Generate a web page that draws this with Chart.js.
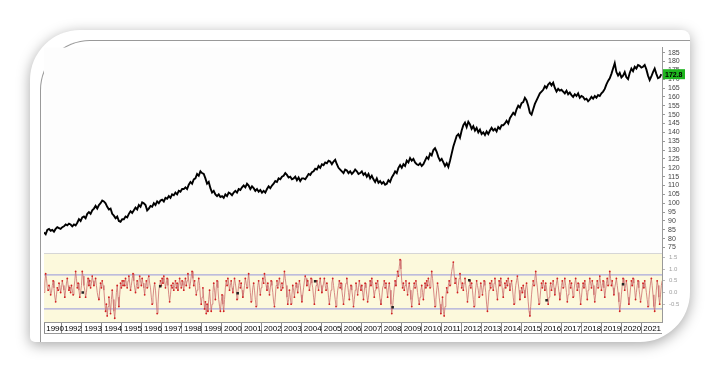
<!DOCTYPE html>
<html>
<head>
<meta charset="utf-8">
<script src="https://cdn.jsdelivr.net/npm/chart.js@4.4.1/dist/chart.umd.min.js"></script>
<style>
  html, body { margin: 0; padding: 0; background: #fff; }
  body { width: 720px; height: 373px; position: relative; overflow: hidden; }
  #card {
    position: absolute; left: 30px; top: 30px; width: 660px; height: 312px;
    background: #fff; overflow: hidden;
    border-radius: 50px 8px 50px 5px;
    box-shadow: 0 3px 14px rgba(0, 0, 0, 0.35);
  }
  #frame {
    position: absolute; left: 10px; top: 10px; width: 660px; height: 310px;
    border-left: 1px solid #9a9a9a; border-top: 1px solid #9a9a9a;
    border-top-left-radius: 50px;
  }
  #wrap { position: absolute; left: 10px; top: 10px; width: 650px; height: 300px; }
</style>
</head>
<body>
<div id="card">
  <div id="frame"></div>
  <div id="wrap"><canvas id="chart" width="650" height="300"></canvas></div>
</div>
<script>
const priceStart = 1991.1; // first bar
const priceValues = [
  83.5, 82.5, 85, 85.5, 84.5, 85, 84, 85.5, 86.5, 86, 85.5, 86.5,
  87, 88, 87.5, 88.5, 88, 87, 88, 87.5, 89, 91, 90, 92,
  92.5, 91.5, 94, 95, 94, 96, 97, 98.5, 97, 99, 100, 101.5,
  101, 100, 98, 96.5, 97, 94, 93, 91.5, 92.5, 90, 89.5, 91,
  91, 92.5, 92, 94, 95.5, 94.5, 96, 97.5, 96.5, 99, 98, 100.5,
  100, 99, 96, 97, 98.5, 98, 100, 99, 101, 100, 101.5, 102,
  101, 103, 102.5, 104, 103, 105, 104.5, 106, 105, 107, 106.5, 108,
  108, 109, 108, 110.5, 112, 111, 113.5, 114, 116.5, 115.5, 118, 117,
  116.5, 114, 111, 112, 108.5, 106, 107, 105, 104, 105, 103.5, 104,
  103, 105, 104, 106, 105.5, 104.5, 106, 107, 106, 108, 107.5, 109,
  110, 109, 111, 110, 108, 109.5, 108.5, 107, 108, 106.5, 107.5, 106,
  107, 106, 108, 109.5, 108.5, 110, 111, 112.5, 112, 114, 113.5, 115,
  115.5, 117, 116, 114.5, 115, 113.5, 114, 115, 113, 114.5, 112.5, 114,
  114, 113.5, 115, 116.5, 116, 117.5, 118, 119.5, 119, 121, 120, 122,
  121.5, 123, 122.5, 124, 123.5, 122, 123.5, 124.5, 122, 120, 119, 118,
  117, 119, 118.5, 117, 118, 116.5, 117.5, 119, 118, 116.5, 117, 118,
  116, 117, 115, 116.5, 114, 115.5, 113.5, 112, 114, 111.5, 112.5, 111,
  112, 110.5, 111, 113, 112, 114.5, 116, 118, 117, 120, 121.5, 120,
  122, 121, 124, 123, 125.5, 124, 125, 123, 122, 121.5, 122.5, 121,
  122, 124, 126, 125, 128, 127, 130, 131, 129, 126, 124, 125,
  123, 121, 122.5, 120.5, 124, 128, 132, 135, 138, 139, 137, 141,
  144, 145.5, 143, 146, 144.5, 142, 143.5, 141, 142.5, 140, 141.5, 139,
  140, 138.5, 140.5, 139, 141, 142.5, 141, 142, 140.5, 143, 142, 144,
  144, 145, 146.5, 145, 148, 149.5, 151, 150, 153, 155, 154, 156.5,
  157, 159.5, 158, 155, 151, 150, 153, 156, 158, 160, 162, 163,
  164, 166, 165, 167, 168, 166.5, 168, 165, 163, 164.5, 163.5, 164,
  163, 162, 163.5, 161.5, 162.5, 161, 160, 161.5, 160.5, 162, 159.5, 160.5,
  160, 158.5, 159, 157.5, 158.5, 160, 159, 160.5, 159.5, 161, 160.5, 162,
  163, 164.5, 167, 169, 170.5, 173, 176, 179, 174, 172, 173.5, 171,
  172, 174, 171, 170, 173.5, 176, 174.5, 177, 176, 178, 177.5, 176.5,
  177, 178, 175.5, 172, 169.5, 171.5, 174, 176, 173, 170.5, 171, 172.8
];

// oscillator, two readings per month
const oscValues = [
  0.0, 0.4, 0.8, 0.6, 0.2, 0.1, 0.3, 0.2, -0.1, 0.0, 0.3, 0.5, 0.2, -0.2, -0.4, -0.1, 0.2, 0.1, 0.4, 0.3, 0.0, 0.2, 0.5, 0.3,
  0.1, -0.2, 0.1, 0.4, 0.6, 0.3, 0.1, 0.2, 0.0, 0.3, 0.1, -0.1, 0.2, 0.5, 0.9, 0.6, 0.2, 0.4, 0.1, -0.2, 0.0, 0.3, 0.9, 0.7,
  0.3, 0.1, -0.2, 0.0, 0.4, 0.6, 0.3, 0.5, 0.2, 0.4, 0.7, 0.5, 0.3, 0.4, 0.6, 0.3, 0.0, -0.2, -0.3, 0.1, 0.4, 0.2, 0.5, 0.3,
  0.1, -0.4, -0.8, -0.5, -1.0, -0.6, -0.2, -0.5, -0.9, -0.3, 0.1, -0.3, -0.8, -1.1, -0.6, 0.0, 0.3, -0.2, -0.6, -0.1, 0.4, 0.2, 0.5, 0.3,
  0.5, 0.3, 0.6, 0.4, 0.2, 0.5, 0.7, 0.4, 0.1, 0.3, 0.6, 0.8, 0.5, 0.2, 0.0, 0.3, 0.5, 0.2, 0.4, 0.7, 0.5, 0.3, 0.6, 0.4,
  0.2, -0.1, 0.3, 0.5, 0.2, 0.6, 0.7, 0.4, 0.2, -0.2, -0.5, -0.2, 0.2, 0.4, 0.1, -0.4, -0.9, -0.5, 0.1, 0.3, 0.5, 0.3, 0.6, 0.4,
  0.7, 0.5, 0.2, 0.4, 0.6, 0.3, -0.1, -0.4, -0.1, 0.3, 0.2, 0.4, 0.1, 0.3, 0.5, 0.2, 0.4, 0.1, 0.3, 0.6, 0.4, 0.2, 0.5, 0.3,
  0.1, 0.4, 0.6, 0.3, 0.5, 0.8, 0.5, 0.2, 0.4, 0.7, 0.9, 0.6, 0.3, 0.5, 0.2, -0.1, 0.1, 0.4, 0.6, 0.3, -0.2, -0.5, -0.2, 0.2,
  -0.3, -0.7, -0.4, -0.9, -0.5, -0.8, -0.3, 0.1, -0.4, -0.8, -0.5, 0.0, 0.4, 0.1, -0.3, 0.2, 0.5, 0.2, -0.3, -0.6, -0.8, -0.4, -0.1, -0.5,
  -0.8, -0.3, 0.2, 0.5, 0.3, 0.6, 0.4, 0.1, 0.3, 0.5, 0.2, 0.0, 0.3, 0.6, 0.4, 0.1, -0.3, 0.0, 0.3, 0.5, 0.2, 0.4, 0.1, -0.2,
  0.0, 0.3, 0.6, 0.4, 0.2, 0.5, 0.8, 0.4, 0.0, -0.4, -0.2, 0.2, 0.4, 0.1, -0.3, -0.6, -0.2, 0.3, 0.5, 0.2, -0.1, 0.2, 0.4, 0.6,
  0.4, 0.8, 0.6, 0.3, 0.1, 0.4, 0.2, -0.1, 0.2, 0.5, 0.3, 0.0, -0.4, -0.6, -0.2, 0.3, 0.5, 0.2, 0.4, 0.6, 0.3, 0.1, 0.4, 0.2,
  0.5, 0.9, 0.6, 0.3, -0.2, -0.5, -0.3, 0.1, -0.2, -0.5, -0.1, 0.3, 0.1, -0.2, 0.2, 0.4, 0.2, 0.0, 0.3, 0.5, 0.3, -0.1, -0.4, -0.1,
  0.2, 0.5, 0.7, 0.6, 0.3, 0.5, 0.4, 0.1, 0.3, 0.6, 0.4, 0.2, -0.2, -0.5, -0.1, 0.3, 0.5, 0.3, 0.1, 0.4, 0.6, 0.3, 0.0, 0.2,
  0.4, 0.6, 0.3, 0.1, 0.4, 0.2, -0.2, -0.5, -0.2, 0.1, 0.4, 0.6, 0.3, 0.0, -0.3, -0.6, -0.3, 0.1, 0.3, 0.5, 0.2, 0.4, 0.1, -0.2,
  -0.5, -0.2, 0.2, 0.4, 0.6, 0.3, 0.0, -0.3, 0.1, 0.3, 0.1, -0.2, -0.6, -0.3, 0.1, 0.4, 0.2, -0.1, 0.2, 0.5, 0.3, 0.1, 0.3, 0.0,
  -0.3, 0.1, 0.4, 0.2, -0.1, -0.4, -0.2, 0.2, 0.5, 0.3, 0.6, 0.4, 0.1, -0.2, 0.1, 0.4, 0.2, 0.5, 0.3, 0.0, -0.3, -0.5, -0.2, 0.2,
  0.3, 0.5, 0.2, 0.4, 0.1, -0.2, 0.2, 0.4, 0.1, -0.5, -0.9, -0.6, -0.2, 0.2, 0.5, 0.3, 0.6, 0.9, 0.7, 1.1, 1.4, 1.0, 0.5, 0.2,
  0.4, 0.1, 0.3, 0.5, 0.2, -0.1, 0.2, 0.4, 0.1, -0.3, -0.6, -0.2, 0.2, 0.4, 0.2, 0.5, 0.3, 0.0, -0.3, -0.5, -0.2, 0.1, 0.3, 0.0,
  -0.3, 0.1, 0.4, 0.2, 0.5, 0.3, 0.6, 0.4, 0.2, 0.5, 0.9, 0.6, 0.2, -0.2, -0.6, -0.3, 0.1, 0.4, 0.2, -0.2, -0.5, -0.9, -0.6, -0.2,
  -0.8, -1.0, -0.6, -0.2, 0.2, 0.0, 0.3, 0.5, 0.3, 0.6, 0.9, 1.1, 1.3, 0.8, 0.4, 0.6, 0.3, 0.0, 0.3, 0.6, 0.8, 0.5, 0.2, 0.4,
  0.1, 0.4, 0.6, 0.3, 0.0, -0.4, -0.1, 0.3, 0.5, 0.2, 0.4, 0.1, -0.3, -0.6, -0.2, 0.2, 0.5, 0.3, 0.1, -0.2, 0.1, 0.4, 0.2, -0.1,
  0.2, 0.5, 0.3, 0.0, -0.5, -0.8, -0.4, 0.1, 0.4, 0.2, 0.5, 0.3, 0.1, 0.4, 0.6, 0.3, 0.0, -0.3, 0.1, 0.5, 0.3, 0.6, 0.4, 0.1,
  -0.2, 0.2, 0.4, 0.2, 0.5, 0.3, 0.6, 0.4, 0.1, 0.3, 0.5, 0.2, -0.2, -0.5, -0.1, 0.3, 0.5, 0.7, 0.4, 0.1, -0.3, -0.1, 0.2, 0.0,
  0.3, 0.1, -0.2, 0.2, 0.4, 0.1, -0.4, -0.8, -1.0, -0.6, -0.1, 0.3, 0.5, 0.3, 0.6, 0.9, 0.5, 0.2, -0.2, -0.5, -0.3, 0.1, 0.4, 0.2,
  0.5, 0.3, 0.1, 0.4, 0.2, -0.2, -0.5, -0.2, 0.2, 0.4, 0.1, 0.3, 0.5, 0.2, -0.1, 0.2, 0.4, 0.6, 0.3, 0.0, -0.3, -0.1, 0.3, 0.5,
  0.2, 0.4, 0.6, 0.3, 0.0, -0.4, -0.1, 0.3, 0.5, 0.2, 0.4, 0.1, -0.2, 0.1, 0.4, 0.6, 0.3, 0.1, 0.4, 0.2, -0.1, -0.5, -0.2, 0.2,
  0.4, 0.2, 0.5, 0.3, 0.0, -0.3, 0.1, 0.3, 0.6, 0.4, 0.2, 0.5, 0.3, -0.1, -0.4, -0.1, 0.3, 0.5, 0.2, 0.4, 0.7, 0.4, 0.1, 0.3,
  0.5, 0.2, -0.2, 0.1, 0.4, 0.6, 0.3, 0.5, 0.9, 0.6, 0.3, 0.5, 0.2, -0.1, 0.2, 0.4, 0.6, 0.3, 0.0, -0.4, -0.8, -0.5, -0.1, 0.3,
  0.6, 0.4, 0.1, 0.3, 0.5, 0.2, -0.2, -0.5, -0.2, 0.2, 0.5, 0.3, 0.6, 0.4, 0.1, -0.3, 0.0, 0.3, 0.5, 0.2, -0.1, -0.4, -0.2, 0.1,
  0.4, 0.2, 0.5, 0.3, 0.0, -0.3, -0.6, -0.3, 0.1, 0.4, 0.6, 0.3, -0.1, -0.6, -0.8, -0.4, 0.1, 0.5, 0.3, -0.2, -0.5, -0.1, 0.3, 0.5
];

// black signal dots on the oscillator
const markerYears = [1993.04, 1996.92, 2000.8, 2004.68, 2008.56, 2012.4, 2016.27, 2020.1];
const markerValues = [0.0, 0.27, -0.03, 0.48, -0.63, 0.52, -0.33, 0.35];

const oscUpper = 0.75;
const oscLower = -0.7;

// axis ticks
const yearTicks = [1991.1, 1992, 1993, 1994, 1995, 1996, 1997, 1998, 1999, 2000, 2001, 2002, 2003, 2004, 2005,
  2006, 2007, 2008, 2009, 2010, 2011, 2012, 2013, 2014, 2015, 2016, 2017, 2018, 2019, 2020, 2021];
const yearLabels = ['1990', '1992', '1993', '1994', '1995', '1996', '1997', '1998', '1999', '2000', '2001', '2002', '2003', '2004', '2005',
  '2006', '2007', '2008', '2009', '2010', '2011', '2012', '2013', '2014', '2015', '2016', '2017', '2018', '2019', '2020', '2021'];
const priceTicks = [75, 80, 85, 90, 95, 100, 105, 110, 115, 120, 125, 130, 135, 140, 145, 150, 155, 160, 165, 170, 175, 180, 185];
const oscTicks = [-0.5, 0, 0.5, 1, 1.5];

const xMin = 1991.1;
const xMax = 2022.05;

const priceData = priceValues.map((v, i) => ({ x: priceStart + i / 12, y: v }));
const oscData = oscValues.map((v, i) => ({ x: priceStart + i / 24, y: v }));
const markerData = markerYears.map((x, i) => ({ x: x, y: markerValues[i] }));

// turning points of the oscillator get a red dot
function isTurn(i) {
  const v = oscValues;
  if (i <= 0 || i >= v.length - 1) return false;
  return (v[i] > v[i - 1] && v[i] >= v[i + 1]) || (v[i] < v[i - 1] && v[i] <= v[i + 1]);
}

// panel backgrounds and the last value box
const panels = {
  id: 'panels',
  beforeDraw(chart) {
    const ctx = chart.ctx;
    const a = chart.chartArea;
    const yo = chart.scales.yo;
    ctx.save();
    ctx.fillStyle = '#fdfdfd';
    ctx.fillRect(a.left, a.top, a.right - a.left, yo.top - a.top);
    ctx.fillStyle = '#fcf9dc';
    ctx.fillRect(a.left, yo.top, a.right - a.left, yo.bottom - yo.top);
    ctx.strokeStyle = '#d6d6d6';
    ctx.lineWidth = 1;
    ctx.beginPath();
    ctx.moveTo(a.left, Math.round(yo.top) + 0.5);
    ctx.lineTo(a.right, Math.round(yo.top) + 0.5);
    ctx.stroke();
    ctx.restore();
  },
  afterDraw(chart) {
    const ctx = chart.ctx;
    const y = chart.scales.y;
    const x = chart.scales.x;
    const last = priceValues[priceValues.length - 1];
    const py = y.getPixelForValue(last);
    ctx.save();
    // bottom edge of the date strip
    ctx.strokeStyle = '#999';
    ctx.lineWidth = 1;
    ctx.beginPath();
    ctx.moveTo(x.left, Math.round(x.bottom) - 0.5);
    ctx.lineTo(x.right, Math.round(x.bottom) - 0.5);
    ctx.stroke();
    ctx.fillStyle = '#1fb51f';
    ctx.fillRect(y.left + 1, py - 5, 22, 10);
    ctx.fillStyle = '#000';
    ctx.font = 'bold 7px "Liberation Sans", Arial, sans-serif';
    ctx.textBaseline = 'middle';
    ctx.textAlign = 'left';
    ctx.fillText(last.toFixed(1), y.left + 3, py + 0.5);
    ctx.restore();
  }
};

new Chart(document.getElementById('chart'), {
  type: 'line',
  data: {
    datasets: [
      {
        label: 'Price',
        data: priceData,
        yAxisID: 'y',
        borderColor: '#000',
        borderWidth: 1.9,
        pointRadius: 0,
        tension: 0,
        order: 1
      },
      {
        label: 'Oscillator',
        data: oscData,
        yAxisID: 'yo',
        borderColor: 'rgba(205, 110, 110, 0.8)',
        borderWidth: 1,
        pointRadius: ctx => isTurn(ctx.dataIndex) ? 0.9 : 0,
        pointBackgroundColor: '#d42020',
        pointBorderWidth: 0,
        tension: 0,
        order: 2
      },
      {
        label: 'Upper',
        data: [{ x: xMin, y: oscUpper }, { x: xMax, y: oscUpper }],
        yAxisID: 'yo',
        borderColor: '#a9a9dc',
        borderWidth: 1.2,
        pointRadius: 0,
        order: 4
      },
      {
        label: 'Lower',
        data: [{ x: xMin, y: oscLower }, { x: xMax, y: oscLower }],
        yAxisID: 'yo',
        borderColor: '#a9a9dc',
        borderWidth: 1.2,
        pointRadius: 0,
        order: 4
      },
      {
        label: 'Signals',
        data: markerData,
        yAxisID: 'yo',
        showLine: false,
        pointStyle: 'rect',
        pointRadius: 1.8,
        pointBackgroundColor: '#222',
        pointBorderWidth: 0,
        order: 0
      }
    ]
  },
  options: {
    responsive: false,
    animation: false,
    events: [],
    layout: { padding: { top: 2, bottom: 6, left: 0, right: 0 } },
    plugins: { legend: { display: false }, tooltip: { enabled: false } },
    scales: {
      x: {
        type: 'linear',
        position: 'bottom',
        min: xMin,
        max: xMax,
        afterBuildTicks: s => { s.ticks = yearTicks.map(v => ({ value: v })); },
        afterFit: s => { s.height = 12; },
        ticks: {
          autoSkip: false,
          maxRotation: 0,
          align: 'start',
          padding: -10,
          color: '#000',
          font: { family: '"Liberation Sans", Arial, sans-serif', size: 8 },
          callback: (v, i) => ' ' + yearLabels[i]
        },
        grid: { drawOnChartArea: false, drawTicks: true, tickLength: 12, color: '#8a8a8a' },
        border: { color: '#999' }
      },
      y: {
        type: 'linear',
        position: 'right',
        stack: 'panels',
        stackWeight: 3,
        min: 71.7,
        max: 187.8,
        afterBuildTicks: s => { s.ticks = priceTicks.map(v => ({ value: v })); },
        afterFit: s => { s.width = 28; },
        ticks: {
          autoSkip: false,
          padding: 3,
          color: '#444',
          font: { family: '"Liberation Sans", Arial, sans-serif', size: 7 }
        },
        grid: { drawOnChartArea: false, tickLength: 3, color: '#999' },
        border: { color: '#999' }
      },
      yo: {
        type: 'linear',
        position: 'right',
        stack: 'panels',
        stackWeight: 1,
        min: -1.26,
        max: 1.67,
        afterBuildTicks: s => { s.ticks = oscTicks.map(v => ({ value: v })); },
        afterFit: s => { s.width = 28; },
        ticks: {
          autoSkip: false,
          padding: 4,
          color: '#a0a0a0',
          font: { family: '"Liberation Sans", Arial, sans-serif', size: 6 },
          callback: v => v.toFixed(1)
        },
        grid: { drawOnChartArea: false, tickLength: 3, color: '#bbb' },
        border: { color: '#999' }
      }
    }
  },
  plugins: [panels]
});
</script>
</body>
</html>
